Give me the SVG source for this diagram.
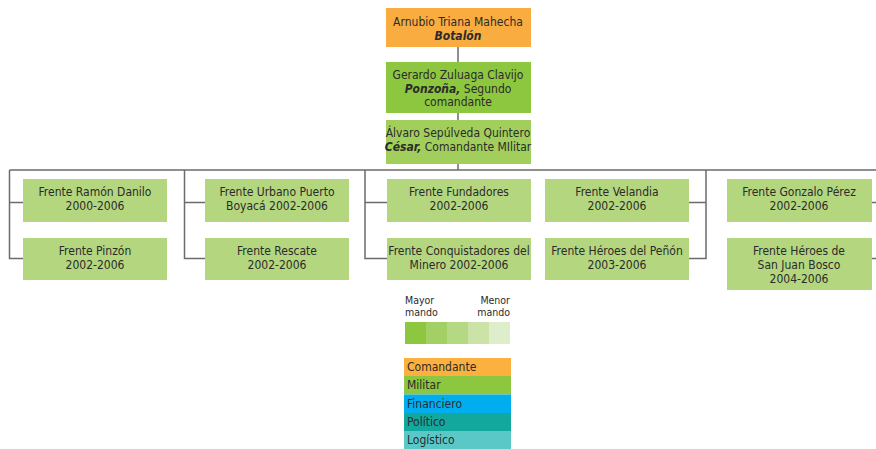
<svg xmlns="http://www.w3.org/2000/svg" width="876" height="449" viewBox="0 0 876 449">
<style>
text{font-family:"Liberation Sans Narrow","DejaVu Sans Condensed","Liberation Sans",sans-serif;font-size:12px;fill:#2b2b2b;text-anchor:middle}
.b{font-weight:bold;font-style:italic}
.l{text-anchor:start;font-size:12px}
.s{font-size:10.5px}
.e{text-anchor:end}
.f{fill:#b3d67f}
.ln{stroke:#6b6b6b;stroke-width:1.5;fill:none}
</style>
<rect width="876" height="449" fill="#fff"/>
<g id="connectors">
<path class="ln" d="M458 47V62M458 113V120M458 164V170M9.5 170H876M9.5 170V258.5H23M9.5 202.5H23M184.5 170V258.5H205M184.5 202.5H205M365 170V258.5H387M365 202.5H387M706 170V258.5H689M706 202.5H689M872 202.5H876M872 258.5H876"/>
</g>
<g id="n-arnubio"><rect x="386" y="8" width="145" height="39" fill="#f9ad41"/><text x="458" y="26">Arnubio Triana Mahecha</text><text class="b" x="458" y="40">Botalón</text></g>
<g id="n-gerardo"><rect x="386" y="62" width="145" height="51" fill="#8dc63f"/><text x="458" y="79">Gerardo Zuluaga Clavijo</text><text x="458" y="93"><tspan class="b">Ponzoña,</tspan> Segundo</text><text x="458" y="106">comandante</text></g>
<g id="n-alvaro"><rect x="386" y="120" width="145" height="44" fill="#a2cf5b"/><text x="458" y="137">Álvaro Sepúlveda Quintero</text><text x="458" y="151"><tspan class="b">César,</tspan>  Comandante MIlitar</text></g>
<g id="n-ramon"><rect class="f" x="23" y="179" width="144" height="43"/><text x="95" y="196">Frente Ramón Danilo</text><text x="95" y="210">2000-2006</text></g>
<g id="n-pinzon"><rect class="f" x="23" y="238" width="144" height="42"/><text x="95" y="255">Frente Pinzón</text><text x="95" y="269">2002-2006</text></g>
<g id="n-urbano"><rect class="f" x="205" y="179" width="144" height="43"/><text x="277" y="196">Frente Urbano Puerto</text><text x="277" y="210">Boyacá 2002-2006</text></g>
<g id="n-rescate"><rect class="f" x="205" y="238" width="144" height="42"/><text x="277" y="255">Frente Rescate</text><text x="277" y="269">2002-2006</text></g>
<g id="n-fundadores"><rect class="f" x="387" y="179" width="144" height="43"/><text x="459" y="196">Frente Fundadores</text><text x="459" y="210">2002-2006</text></g>
<g id="n-conquistadores"><rect class="f" x="387" y="238" width="144" height="42"/><text x="459" y="255">Frente Conquistadores del</text><text x="459" y="269">Minero 2002-2006</text></g>
<g id="n-velandia"><rect class="f" x="545" y="179" width="144" height="43"/><text x="617" y="196">Frente Velandia</text><text x="617" y="210">2002-2006</text></g>
<g id="n-heroes-penon"><rect class="f" x="545" y="238" width="144" height="42"/><text x="617" y="255">Frente Héroes del Peñón</text><text x="617" y="269">2003-2006</text></g>
<g id="n-gonzalo"><rect class="f" x="727" y="179" width="145" height="43"/><text x="799" y="196">Frente Gonzalo Pérez</text><text x="799" y="210">2002-2006</text></g>
<g id="n-heroes-sjb"><rect class="f" x="727" y="238" width="145" height="52"/><text x="799" y="255">Frente Héroes de</text><text x="799" y="269">San Juan Bosco</text><text x="799" y="283">2004-2006</text></g>
<g id="legend-scale">
<text class="l s" x="405" y="304">Mayor</text><text class="l s" x="405" y="316">mando</text>
<text class="e s" x="510" y="304">Menor</text><text class="e s" x="510" y="316">mando</text>
<rect x="405" y="322" width="21" height="22" fill="#8dc63f"/>
<rect x="426" y="322" width="21" height="22" fill="#a3d064"/>
<rect x="447" y="322" width="21" height="22" fill="#b5d883"/>
<rect x="468" y="322" width="21" height="22" fill="#cbe3a6"/>
<rect x="489" y="322" width="21" height="22" fill="#deedca"/>
</g>
<g id="legend-types">
<rect x="404" y="358" width="107" height="18" fill="#fbb040"/><text class="l" x="407" y="371">Comandante</text>
<rect x="404" y="376" width="107" height="18.5" fill="#8dc63f"/><text class="l" x="407" y="389">Militar</text>
<rect x="404" y="394.5" width="107" height="18.5" fill="#00aeef"/><text class="l" x="407" y="408">Financiero</text>
<rect x="404" y="413" width="107" height="18" fill="#13a89e"/><text class="l" x="407" y="426">Político</text>
<rect x="404" y="431" width="107" height="18" fill="#5bc8c8"/><text class="l" x="407" y="444">Logístico</text>
</g>
</svg>
